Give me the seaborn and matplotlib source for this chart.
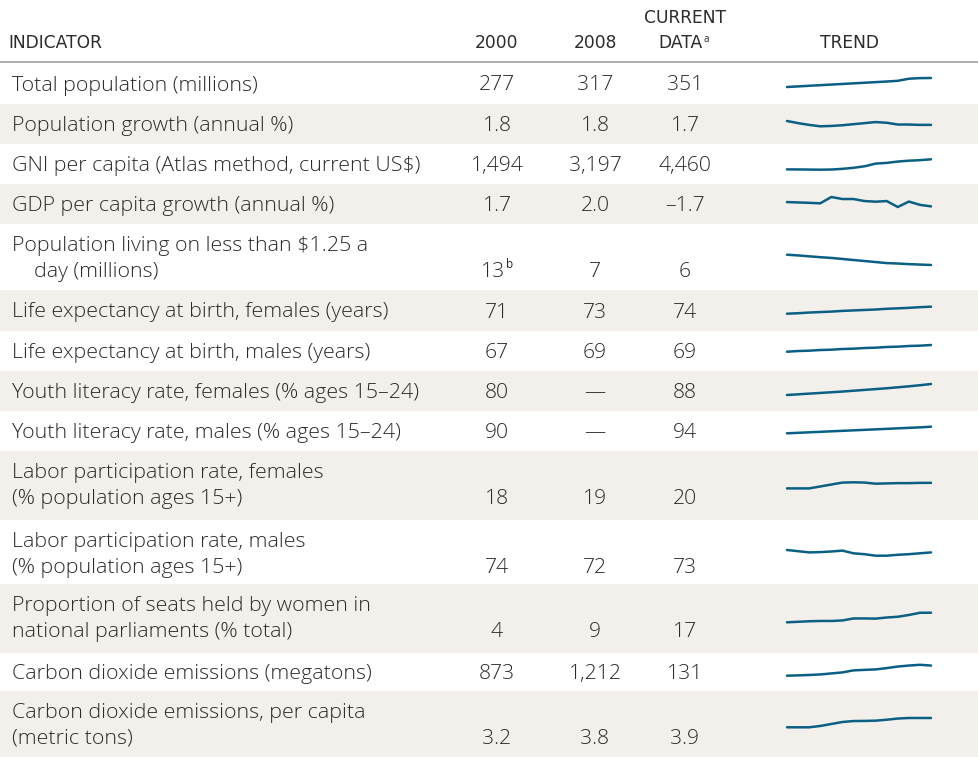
import numpy as np
import pandas as pd
import matplotlib.pyplot as plt
import seaborn as sns

sns.set_theme(style="white")
plt.rcParams["font.family"] = ["Open Sans", "DejaVu Sans"]

# table text
indicators = [
    "Total population (millions)",
    "Population growth (annual %)",
    "GNI per capita (Atlas method, current US\\$)",
    "GDP per capita growth (annual %)",
    "Population living on less than \\$1.25 a\n    day (millions)",
    "Life expectancy at birth, females (years)",
    "Life expectancy at birth, males (years)",
    "Youth literacy rate, females (% ages 15–24)",
    "Youth literacy rate, males (% ages 15–24)",
    "Labor participation rate, females\n(% population ages 15+)",
    "Labor participation rate, males\n(% population ages 15+)",
    "Proportion of seats held by women in\nnational parliaments (% total)",
    "Carbon dioxide emissions (megatons)",
    "Carbon dioxide emissions, per capita\n(metric tons)",
]
v2000 = ["277", "1.8", "1,494", "1.7", "13", "71", "67", "80", "90", "18", "74", "4", "873", "3.2"]
v2008 = ["317", "1.8", "3,197", "2.0", "7", "73", "69", "—", "—", "19", "72", "9", "1,212", "3.8"]
vcur = ["351", "1.7", "4,460", "–1.7", "6", "74", "69", "88", "94", "20", "73", "17", "131", "3.9"]

# trend series, 2000-2013
years = list(range(2000, 2014))
trend_pop = [277, 282, 287, 292, 297, 302, 307, 312, 317, 322, 328, 345, 350, 351]
trend_popgr = [1.81, 1.75, 1.70, 1.66, 1.67, 1.69, 1.72, 1.75, 1.78, 1.76, 1.71, 1.71, 1.70, 1.70]
trend_gni = [1494, 1470, 1440, 1400, 1450, 1650, 1960, 2400, 3197, 3400, 3800, 4050, 4200, 4460]
trend_gdpgr = [1.7, 1.4, 1.1, 0.7, 5.7, 4.1, 4.1, 2.5, 2.0, 2.5, -2.2, 2.1, -0.5, -1.7]
trend_pov = [13, 12.5, 11.9, 11.3, 10.8, 10.1, 9.4, 8.7, 8.0, 7.3, 7.0, 6.6, 6.3, 6.0]
trend_lef = [71.0, 71.2, 71.5, 71.7, 71.9, 72.2, 72.4, 72.6, 72.8, 73.1, 73.3, 73.5, 73.8, 74.0]
trend_lem = [67.0, 67.2, 67.3, 67.5, 67.6, 67.8, 67.9, 68.1, 68.2, 68.4, 68.5, 68.7, 68.8, 69.0]
trend_litf = [80, 80.5, 81, 81.5, 82, 82.5, 83.1, 83.7, 84.3, 84.9, 85.6, 86.3, 87.1, 88]
trend_litm = [90, 90.3, 90.6, 90.9, 91.2, 91.5, 91.8, 92.1, 92.4, 92.7, 93.0, 93.3, 93.6, 94]
trend_labf = [18.0, 18.0, 18.0, 18.7, 19.4, 20.1, 20.2, 20.1, 19.7, 19.8, 19.9, 19.9, 20.0, 20.0]
trend_labm = [74.0, 73.6, 73.2, 73.3, 73.5, 73.8, 72.9, 72.6, 72.1, 72.1, 72.4, 72.6, 72.9, 73.2]
trend_seats = [4.0, 4.7, 5.4, 5.8, 5.8, 6.5, 9.2, 9.2, 9.0, 10.5, 11.5, 13.9, 16.9, 17.0]
trend_co2 = [873, 890, 912, 940, 995, 1050, 1160, 1187, 1212, 1283, 1365, 1420, 1460, 1420]
trend_co2pc = [3.2, 3.2, 3.2, 3.3, 3.45, 3.6, 3.67, 3.68, 3.7, 3.77, 3.86, 3.9, 3.9, 3.9]
trends = [trend_pop, trend_popgr, trend_gni, trend_gdpgr, trend_pov, trend_lef, trend_lem,
          trend_litf, trend_litm, trend_labf, trend_labm, trend_seats, trend_co2, trend_co2pc]

# layout (pixels)
W, H = 979, 757
row_edges = [63, 104, 144, 184, 224, 290, 331, 371, 411, 451, 520, 584, 653, 691, 757]
spark_box = [(78, 87), (121, 126.3), (159.3, 169.7), (197, 207), (254.7, 265), (306.7, 313.7),
             (345, 351.7), (384, 395), (426.7, 433.3), (482.3, 488.4), (550, 555.7),
             (612.7, 622.3), (664.8, 675.7), (718, 727.3)]
spark_x = (787, 931)
band = "#f3f0eb"
line_col = "#0a5f84"
txt_col = "#2b2b2b"

fig = plt.figure(figsize=(W / 100, H / 100), dpi=100)
ax = fig.add_axes([0, 0, 1, 1])
ax.set_xlim(0, W)
ax.set_ylim(H, 0)
ax.axis("off")

# header
hfont = dict(fontsize=12.3, color=txt_col, va="center", family=["Liberation Sans Narrow", "DejaVu Sans"])
ax.text(8, 43, "INDICATOR", ha="left", **hfont)
ax.text(497, 43, "2000", ha="center", **hfont)
ax.text(595, 43, "2008", ha="center", **hfont)
ax.text(685, 18, "CURRENT", ha="center", **hfont)
ax.text(681, 43, "DATA", ha="center", **hfont)
ax.text(704, 40, "a", ha="left", fontsize=7, color=txt_col, va="center")
ax.text(850, 43, "TREND", ha="center", **hfont)
ax.axhline(62, color="#a0a0a0", lw=1.2)

lfont = dict(fontsize=15.4, color=txt_col, va="center", fontweight="light")
nfont = dict(fontsize=15.2, color=txt_col, va="center", fontweight="light")
for i, name in enumerate(indicators):
    top, bot = row_edges[i], row_edges[i + 1]
    if i % 2 == 1:
        ax.axhspan(top, bot, color=band, lw=0, zorder=0)
    if "\n" in name:
        y1 = top + 22
        y2 = y1 + 26
        l1, l2 = name.split("\n")
        ax.text(12, y1, l1, ha="left", **lfont)
        ax.text(12, y2, l2, ha="left", **lfont)
    else:
        y2 = (top + bot) / 2 + 2
        ax.text(12, y2, name, ha="left", **lfont)
    if v2000[i] == "13":
        ax.text(505, y2, v2000[i], ha="right", **nfont)
        ax.text(506, y2 - 7, "b", ha="left", fontsize=8.5, color=txt_col, va="center")
    else:
        ax.text(497, y2, v2000[i], ha="center", **nfont)
    ax.text(595, y2, v2008[i], ha="center", **nfont)
    ax.text(685, y2, vcur[i], ha="center", **nfont)

    # sparkline
    t, b = spark_box[i]
    sax = fig.add_axes([spark_x[0] / W, 1 - b / H, (spark_x[1] - spark_x[0]) / W, (b - t) / H])
    df = pd.DataFrame({"year": years, "value": trends[i]})
    sns.lineplot(data=df, x="year", y="value", ax=sax, color=line_col, linewidth=1.8)
    sax.set_xlim(years[0], years[-1])
    sax.set_ylim(min(trends[i]), max(trends[i]))
    sax.axis("off")
    sax.patch.set_alpha(0)
    for ln in sax.lines:
        ln.set_clip_on(False)

fig.savefig("out.png", dpi=100)
